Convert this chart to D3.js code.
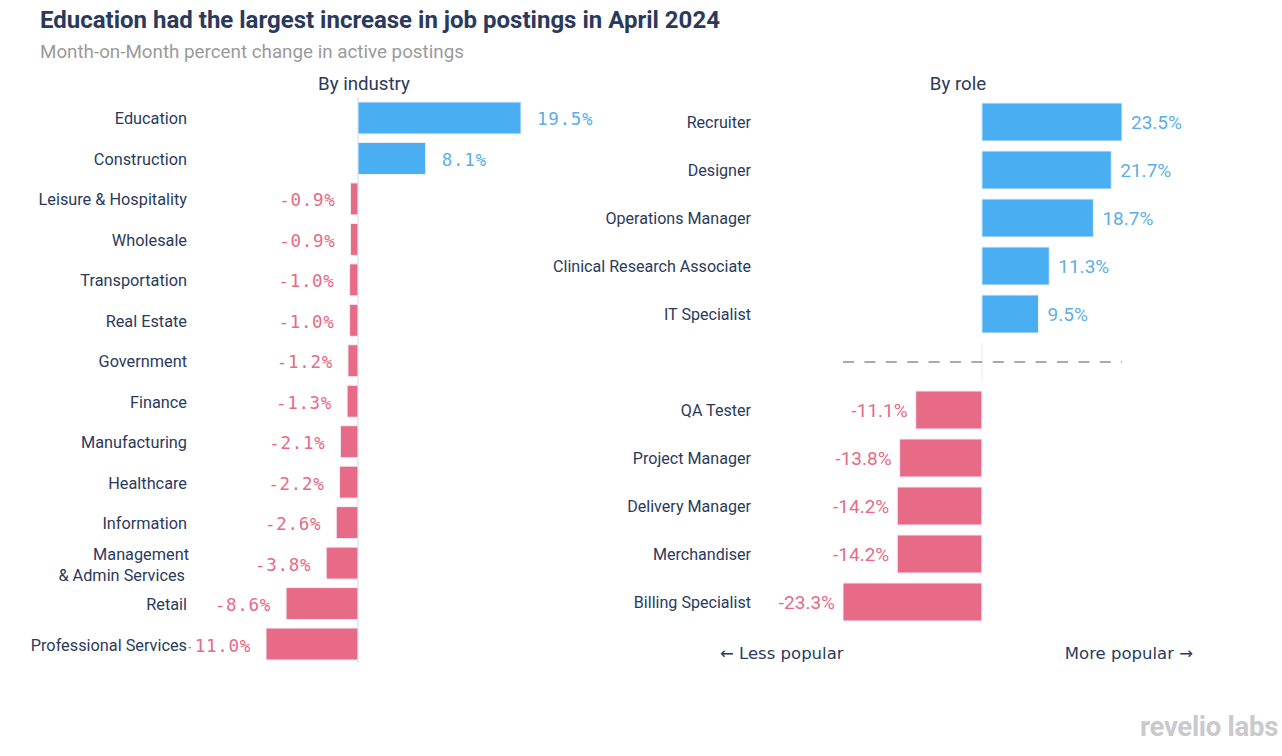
<!DOCTYPE html>
<html><head><meta charset="utf-8">
<script src="https://cdn.jsdelivr.net/npm/d3@7"></script>
<style>
body{margin:0;background:#fff;}
svg{display:block;font-family:Roboto,"Noto Sans",sans-serif;}
</style></head>
<body><svg id="c" width="1282" height="756"></svg>
<script>
const industries = ["Education","Construction","Leisure & Hospitality","Wholesale","Transportation","Real Estate","Government","Finance","Manufacturing","Healthcare","Information","Management\n& Admin Services","Retail","Professional Services"];
const industryValues = [19.5, 8.1, -0.9, -0.9, -1.0, -1.0, -1.2, -1.3, -2.1, -2.2, -2.6, -3.8, -8.6, -11.0];
const rolesTop = ["Recruiter","Designer","Operations Manager","Clinical Research Associate","IT Specialist"];
const rolesTopValues = [23.5, 21.7, 18.7, 11.3, 9.5];
const rolesBottom = ["QA Tester","Project Manager","Delivery Manager","Merchandiser","Billing Specialist"];
const rolesBottomValues = [-11.1, -13.8, -14.2, -14.2, -23.3];

const BLUE = "#4aaef3", PINK = "#e76a86", NAVY = "#2b3a5c";
const fmt = v => (v<0?"-":"") + Math.abs(v).toFixed(1) + "%";
const svg = d3.select("#c");

svg.append("text").attr("x",40).attr("y",28).attr("font-size",24).attr("font-weight",700).attr("fill",NAVY)
  .text("Education had the largest increase in job postings in April 2024");
svg.append("text").attr("x",40).attr("y",58).attr("font-size",18.8).attr("fill","#9a9a9a")
  .text("Month-on-Month percent change in active postings");

// ---------- Left: by industry ----------
const ind = industries.map((k,i)=>({k, v:industryValues[i]}));
const xL = d3.scaleLinear().domain([-11, 19.5]).range([266, 521]);
const yL = d3.scaleBand().domain(industries).range([97.75, 664.25]).paddingInner(0.21).paddingOuter(0.105);
svg.append("text").attr("x",364).attr("y",90).attr("text-anchor","middle").attr("font-size",18.7).attr("fill",NAVY).text("By industry");
svg.append("line").attr("x1",xL(0)).attr("x2",xL(0)).attr("y1",97).attr("y2",663).attr("stroke","#e2e6ea").attr("stroke-width",1.5);
const gL = svg.append("g");
gL.selectAll("rect").data(ind).join("rect")
  .attr("x",d=>xL(Math.min(0,d.v))).attr("width",d=>Math.abs(xL(d.v)-xL(0)))
  .attr("y",d=>yL(d.k)).attr("height",yL.bandwidth())
  .attr("fill",d=>d.v>=0?BLUE:PINK).attr("stroke","#eef0f8").attr("stroke-width",1);
gL.selectAll("text.val").data(ind).join("text").attr("class","val")
  .attr("x",d=>d.v>=0?xL(d.v)+16:xL(d.v)-15)
  .attr("y",d=>yL(d.k)+yL.bandwidth()/2+7.5)
  .attr("text-anchor",d=>d.v>=0?"start":"end")
  .attr("font-family","'DejaVu Sans Mono',monospace").attr("font-size",17.5).attr("letter-spacing",0.7)
  .attr("fill",d=>d.v>=0?"#5aaeea":PINK)
  .text(d=>fmt(d.v));
const labL = gL.selectAll("text.cat").data(ind).join("text").attr("class","cat")
  .attr("text-anchor","end").attr("font-size",16.3).attr("fill",NAVY)
  .attr("stroke","#fff").attr("stroke-width",5).attr("paint-order","stroke")
  .attr("y",d=>yL(d.k)+yL.bandwidth()/2+6.5);
labL.each(function(d){
  const lines = d.k.split("\n");
  const t = d3.select(this);
  lines.forEach((ln,i)=>{
    t.append("tspan").attr("x", lines.length>1 ? (i===0?189:185) : 187)
      .attr("dy", i===0 ? (lines.length>1? -10 : 0) : 21).text(ln);
  });
});

// ---------- Right: by role ----------
const SEP = "__sep__";
const roleKeys = [...rolesTop, SEP, ...rolesBottom];
const roles = rolesTop.map((k,i)=>({k,v:rolesTopValues[i]})).concat(rolesBottom.map((k,i)=>({k,v:rolesBottomValues[i]})));
const xR = d3.scaleLinear().domain([-23.3, 23.5]).range([843, 1122]);
const yR = d3.scaleBand().domain(roleKeys).range([98, 626]).paddingInner(0.208).paddingOuter(0.104);
svg.append("text").attr("x",958).attr("y",90).attr("text-anchor","middle").attr("font-size",18.7).attr("fill",NAVY).text("By role");
const sepY = yR(SEP)+yR.bandwidth()/2;
svg.append("line").attr("x1",xR(0)).attr("x2",xR(0)).attr("y1",sepY-19).attr("y2",sepY+19).attr("stroke","#e6ecf4").attr("stroke-width",1);
svg.append("line").attr("x1",843).attr("x2",1122).attr("y1",sepY).attr("y2",sepY)
  .attr("stroke","#8e8e8e").attr("stroke-width",1.5).attr("stroke-dasharray","11,10.4");
const gR = svg.append("g");
gR.selectAll("rect").data(roles).join("rect")
  .attr("x",d=>xR(Math.min(0,d.v))).attr("width",d=>Math.abs(xR(d.v)-xR(0)))
  .attr("y",d=>yR(d.k)).attr("height",yR.bandwidth())
  .attr("fill",d=>d.v>=0?BLUE:PINK).attr("stroke","#eef0f8").attr("stroke-width",1);
gR.selectAll("text.val").data(roles).join("text").attr("class","val")
  .attr("x",d=>d.v>=0?xR(d.v)+9:xR(d.v)-8)
  .attr("y",d=>yR(d.k)+yR.bandwidth()/2+6.5)
  .attr("text-anchor",d=>d.v>=0?"start":"end")
  .attr("font-size",19).attr("fill",d=>d.v>=0?"#5aaeea":PINK)
  .text(d=>fmt(d.v));
gR.selectAll("text.cat").data(roles).join("text").attr("class","cat")
  .attr("x",751).attr("y",d=>yR(d.k)+yR.bandwidth()/2+5.5)
  .attr("text-anchor","end").attr("font-size",16.1).attr("fill",NAVY).text(d=>d.k);

svg.append("text").attr("x",720).attr("y",659).attr("font-family","'DejaVu Sans',sans-serif").attr("font-size",16.5).attr("fill",NAVY).text("← Less popular");
svg.append("text").attr("x",1193).attr("y",659).attr("text-anchor","end").attr("font-family","'DejaVu Sans',sans-serif").attr("font-size",16.5).attr("fill",NAVY).text("More popular →");

svg.append("text").attr("x",1278).attr("y",736).attr("text-anchor","end").attr("font-size",27.5).attr("font-weight",700).attr("fill","#c9c9ce").attr("letter-spacing",-0.3).text("revelio labs");
</script></body></html>
